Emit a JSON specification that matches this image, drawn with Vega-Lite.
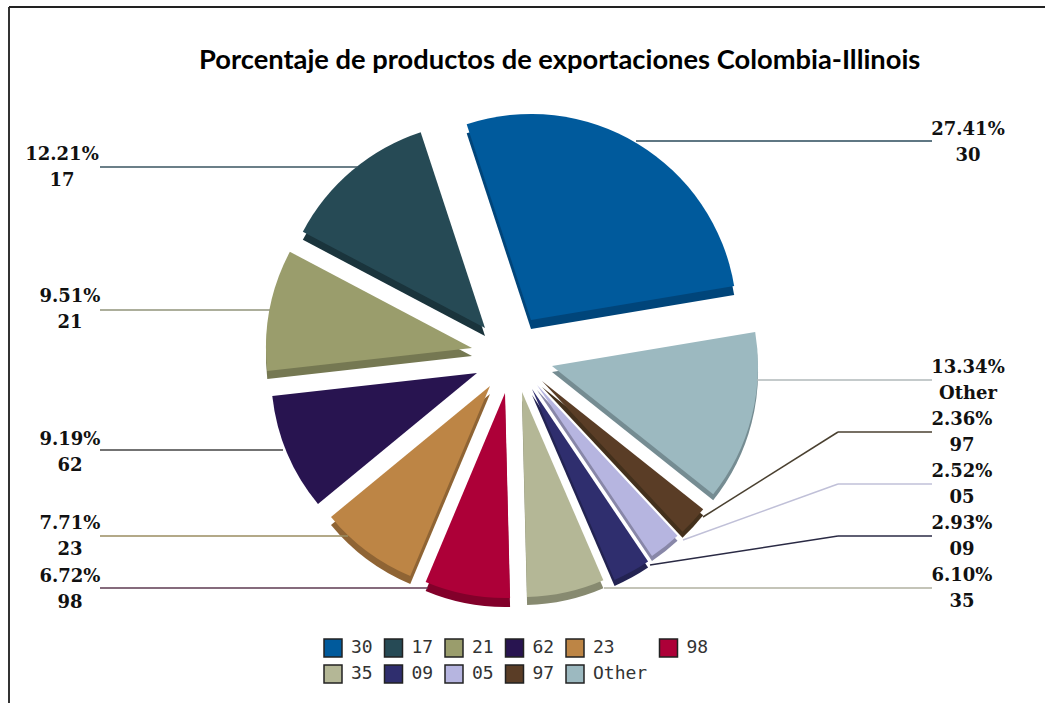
{"$schema":"https://vega.github.io/schema/vega-lite/v6.json","width":1045,"height":703,"padding":0,"autosize":"none","background":"white","view":{"stroke":null},
"title":{"text":"Porcentaje de productos de exportaciones Colombia-Illinois","font":"Lato","fontWeight":"bold","fontSize":27.3,"color":"#000000","anchor":"start","offset":-88,"baseline":"middle","dx":199},
"data":{"values":[
{"code":"30","share":27.41,"order":1,"label":"27.41%\n30"},
{"code":"Other","share":13.34,"order":2,"label":"13.34%\nOther"},
{"code":"97","share":2.36,"order":3,"label":"2.36%\n97"},
{"code":"05","share":2.52,"order":4,"label":"2.52%\n05"},
{"code":"09","share":2.93,"order":5,"label":"2.93%\n09"},
{"code":"35","share":6.10,"order":6,"label":"6.10%\n35"},
{"code":"98","share":6.72,"order":7,"label":"6.72%\n98"},
{"code":"23","share":7.71,"order":8,"label":"7.71%\n23"},
{"code":"62","share":9.19,"order":9,"label":"9.19%\n62"},
{"code":"21","share":9.51,"order":10,"label":"9.51%\n21"},
{"code":"17","share":12.21,"order":11,"label":"12.21%\n17"}]},
"transform":[{"stack":"share","sort":[{"field":"order"}],"as":["s0","s1"]}],
"layer":[
{"transform":[{"filter":"datum.code=='30'"}],"mark":{"type":"rule","color":"#333333","strokeWidth":2},"encoding":{"x":{"datum":9,"scale":{"domain":[0,1045]},"axis":null},"x2":{"datum":9},"y":{"datum":7,"scale":{"domain":[703,0]},"axis":null},"y2":{"datum":703}}},
{"transform":[{"filter":"datum.code=='30'"}],"mark":{"type":"rule","color":"#222222","strokeWidth":2},"encoding":{"x":{"datum":9,"scale":{"domain":[0,1045]},"axis":null},"x2":{"datum":1045},"y":{"datum":7,"scale":{"domain":[703,0]},"axis":null},"y2":{"datum":7}}},

{"transform":[{"filter":"datum.code=='30'"}],"mark":{"type":"arc","radius":206,"color":"#00457a"},"encoding":{"x":{"datum":531,"scale":{"domain":[0,1045]},"axis":null},"y":{"datum":329,"scale":{"domain":[703,0]},"axis":null},"theta":{"field":"s0","type":"quantitative","stack":null,"scale":{"domain":[0,100],"range":[-0.3176,5.9656]}},"theta2":{"field":"s1"}}},
{"transform":[{"filter":"datum.code=='Other'"}],"mark":{"type":"arc","radius":206,"color":"#758c92"},"encoding":{"x":{"datum":552,"scale":{"domain":[0,1045]},"axis":null},"y":{"datum":372,"scale":{"domain":[703,0]},"axis":null},"theta":{"field":"s0","type":"quantitative","stack":null,"scale":{"domain":[0,100],"range":[-0.3176,5.9656]}},"theta2":{"field":"s1"}}},
{"transform":[{"filter":"datum.code=='97'"}],"mark":{"type":"arc","radius":206,"color":"#43301c"},"encoding":{"x":{"datum":542,"scale":{"domain":[0,1045]},"axis":null},"y":{"datum":387,"scale":{"domain":[703,0]},"axis":null},"theta":{"field":"s0","type":"quantitative","stack":null,"scale":{"domain":[0,100],"range":[-0.3176,5.9656]}},"theta2":{"field":"s1"}}},
{"transform":[{"filter":"datum.code=='05'"}],"mark":{"type":"arc","radius":206,"color":"#8887a8"},"encoding":{"x":{"datum":537,"scale":{"domain":[0,1045]},"axis":null},"y":{"datum":390,"scale":{"domain":[703,0]},"axis":null},"theta":{"field":"s0","type":"quantitative","stack":null,"scale":{"domain":[0,100],"range":[-0.3176,5.9656]}},"theta2":{"field":"s1"}}},
{"transform":[{"filter":"datum.code=='09'"}],"mark":{"type":"arc","radius":208,"color":"#232352"},"encoding":{"x":{"datum":532,"scale":{"domain":[0,1045]},"axis":null},"y":{"datum":395,"scale":{"domain":[703,0]},"axis":null},"theta":{"field":"s0","type":"quantitative","stack":null,"scale":{"domain":[0,100],"range":[-0.3176,5.9656]}},"theta2":{"field":"s1"}}},
{"transform":[{"filter":"datum.code=='35'"}],"mark":{"type":"arc","radius":205,"color":"#878a70"},"encoding":{"x":{"datum":522,"scale":{"domain":[0,1045]},"axis":null},"y":{"datum":400,"scale":{"domain":[703,0]},"axis":null},"theta":{"field":"s0","type":"quantitative","stack":null,"scale":{"domain":[0,100],"range":[-0.3176,5.9656]}},"theta2":{"field":"s1"}}},
{"transform":[{"filter":"datum.code=='98'"}],"mark":{"type":"arc","radius":205,"color":"#82002a"},"encoding":{"x":{"datum":505,"scale":{"domain":[0,1045]},"axis":null},"y":{"datum":402,"scale":{"domain":[703,0]},"axis":null},"theta":{"field":"s0","type":"quantitative","stack":null,"scale":{"domain":[0,100],"range":[-0.3176,5.9656]}},"theta2":{"field":"s1"}}},
{"transform":[{"filter":"datum.code=='23'"}],"mark":{"type":"arc","radius":206,"color":"#8f6434"},"encoding":{"x":{"datum":490,"scale":{"domain":[0,1045]},"axis":null},"y":{"datum":394,"scale":{"domain":[703,0]},"axis":null},"theta":{"field":"s0","type":"quantitative","stack":null,"scale":{"domain":[0,100],"range":[-0.3176,5.9656]}},"theta2":{"field":"s1"}}},
{"transform":[{"filter":"datum.code=='21'"}],"mark":{"type":"arc","radius":206,"color":"#757852"},"encoding":{"x":{"datum":472,"scale":{"domain":[0,1045]},"axis":null},"y":{"datum":356,"scale":{"domain":[703,0]},"axis":null},"theta":{"field":"s0","type":"quantitative","stack":null,"scale":{"domain":[0,100],"range":[-0.3176,5.9656]}},"theta2":{"field":"s1"}}},
{"transform":[{"filter":"datum.code=='17'"}],"mark":{"type":"arc","radius":206,"color":"#1a343c"},"encoding":{"x":{"datum":485,"scale":{"domain":[0,1045]},"axis":null},"y":{"datum":336,"scale":{"domain":[703,0]},"axis":null},"theta":{"field":"s0","type":"quantitative","stack":null,"scale":{"domain":[0,100],"range":[-0.3176,5.9656]}},"theta2":{"field":"s1"}}},

{"transform":[{"filter":"datum.code=='30'"}],"mark":{"type":"arc","radius":206},"encoding":{"x":{"datum":531,"scale":{"domain":[0,1045]},"axis":null},"y":{"datum":320,"scale":{"domain":[703,0]},"axis":null},"theta":{"field":"s0","type":"quantitative","stack":null,"scale":{"domain":[0,100],"range":[-0.3176,5.9656]}},"theta2":{"field":"s1"},"color":{"field":"code","type":"nominal","scale":{"domain":["30","17","21","62","23","98","35","09","05","97","Other"],"range":["#005a9c","#264a55","#9a9d6c","#281450","#bd8545","#ad0038","#b4b796","#2f2e6e","#b6b5e0","#5a3d26","#9cb9c0"]},"legend":{"orient":"none","legendX":323,"legendY":638,"columns":6,"direction":"horizontal","title":null,"symbolType":"square","symbolSize":324,"symbolOpacity":1,"labelFont":"DejaVu Sans Mono","labelFontSize":18,"labelColor":"#333333","labelOffset":8,"columnPadding":8.5,"rowPadding":2,"gridAlign":"each","encode":{"symbols":{"update":{"stroke":{"value":"#222222"},"strokeWidth":{"value":1.5}}}}}}}},
{"transform":[{"filter":"datum.code=='Other'"}],"mark":{"type":"arc","radius":206},"encoding":{"x":{"datum":552,"scale":{"domain":[0,1045]},"axis":null},"y":{"datum":366,"scale":{"domain":[703,0]},"axis":null},"theta":{"field":"s0","type":"quantitative","stack":null,"scale":{"domain":[0,100],"range":[-0.3176,5.9656]}},"theta2":{"field":"s1"},"color":{"field":"code","type":"nominal"}}},
{"transform":[{"filter":"datum.code=='97'"}],"mark":{"type":"arc","radius":206},"encoding":{"x":{"datum":542,"scale":{"domain":[0,1045]},"axis":null},"y":{"datum":381,"scale":{"domain":[703,0]},"axis":null},"theta":{"field":"s0","type":"quantitative","stack":null,"scale":{"domain":[0,100],"range":[-0.3176,5.9656]}},"theta2":{"field":"s1"},"color":{"field":"code","type":"nominal"}}},
{"transform":[{"filter":"datum.code=='05'"}],"mark":{"type":"arc","radius":206},"encoding":{"x":{"datum":537,"scale":{"domain":[0,1045]},"axis":null},"y":{"datum":385,"scale":{"domain":[703,0]},"axis":null},"theta":{"field":"s0","type":"quantitative","stack":null,"scale":{"domain":[0,100],"range":[-0.3176,5.9656]}},"theta2":{"field":"s1"},"color":{"field":"code","type":"nominal"}}},
{"transform":[{"filter":"datum.code=='09'"}],"mark":{"type":"arc","radius":208},"encoding":{"x":{"datum":532,"scale":{"domain":[0,1045]},"axis":null},"y":{"datum":389,"scale":{"domain":[703,0]},"axis":null},"theta":{"field":"s0","type":"quantitative","stack":null,"scale":{"domain":[0,100],"range":[-0.3176,5.9656]}},"theta2":{"field":"s1"},"color":{"field":"code","type":"nominal"}}},
{"transform":[{"filter":"datum.code=='35'"}],"mark":{"type":"arc","radius":205},"encoding":{"x":{"datum":522,"scale":{"domain":[0,1045]},"axis":null},"y":{"datum":392,"scale":{"domain":[703,0]},"axis":null},"theta":{"field":"s0","type":"quantitative","stack":null,"scale":{"domain":[0,100],"range":[-0.3176,5.9656]}},"theta2":{"field":"s1"},"color":{"field":"code","type":"nominal"}}},
{"transform":[{"filter":"datum.code=='98'"}],"mark":{"type":"arc","radius":205},"encoding":{"x":{"datum":505,"scale":{"domain":[0,1045]},"axis":null},"y":{"datum":393,"scale":{"domain":[703,0]},"axis":null},"theta":{"field":"s0","type":"quantitative","stack":null,"scale":{"domain":[0,100],"range":[-0.3176,5.9656]}},"theta2":{"field":"s1"},"color":{"field":"code","type":"nominal"}}},
{"transform":[{"filter":"datum.code=='23'"}],"mark":{"type":"arc","radius":206},"encoding":{"x":{"datum":490,"scale":{"domain":[0,1045]},"axis":null},"y":{"datum":386,"scale":{"domain":[703,0]},"axis":null},"theta":{"field":"s0","type":"quantitative","stack":null,"scale":{"domain":[0,100],"range":[-0.3176,5.9656]}},"theta2":{"field":"s1"},"color":{"field":"code","type":"nominal"}}},
{"transform":[{"filter":"datum.code=='62'"}],"mark":{"type":"arc","radius":206},"encoding":{"x":{"datum":477,"scale":{"domain":[0,1045]},"axis":null},"y":{"datum":373,"scale":{"domain":[703,0]},"axis":null},"theta":{"field":"s0","type":"quantitative","stack":null,"scale":{"domain":[0,100],"range":[-0.3176,5.9656]}},"theta2":{"field":"s1"},"color":{"field":"code","type":"nominal"}}},
{"transform":[{"filter":"datum.code=='21'"}],"mark":{"type":"arc","radius":206},"encoding":{"x":{"datum":472,"scale":{"domain":[0,1045]},"axis":null},"y":{"datum":348,"scale":{"domain":[703,0]},"axis":null},"theta":{"field":"s0","type":"quantitative","stack":null,"scale":{"domain":[0,100],"range":[-0.3176,5.9656]}},"theta2":{"field":"s1"},"color":{"field":"code","type":"nominal"}}},
{"transform":[{"filter":"datum.code=='17'"}],"mark":{"type":"arc","radius":206},"encoding":{"x":{"datum":485,"scale":{"domain":[0,1045]},"axis":null},"y":{"datum":328,"scale":{"domain":[703,0]},"axis":null},"theta":{"field":"s0","type":"quantitative","stack":null,"scale":{"domain":[0,100],"range":[-0.3176,5.9656]}},"theta2":{"field":"s1"},"color":{"field":"code","type":"nominal"}}},

{"transform":[{"filter":"datum.code=='30'"}],"mark":{"type":"rule","strokeWidth":1.5,"color":"#2a4a5a"},"encoding":{"x":{"datum":932,"scale":{"domain":[0,1045]},"axis":null},"x2":{"datum":636},"y":{"datum":141,"scale":{"domain":[703,0]},"axis":null},"y2":{"datum":141}}},
{"transform":[{"filter":"datum.code=='Other'"}],"mark":{"type":"rule","strokeWidth":1.5,"color":"#b0b8ba"},"encoding":{"x":{"datum":932,"scale":{"domain":[0,1045]},"axis":null},"x2":{"datum":757},"y":{"datum":380,"scale":{"domain":[703,0]},"axis":null},"y2":{"datum":380}}},
{"transform":[{"filter":"datum.code=='97'"}],"mark":{"type":"rule","strokeWidth":1.5,"color":"#4a4030"},"encoding":{"x":{"datum":932,"scale":{"domain":[0,1045]},"axis":null},"x2":{"datum":838},"y":{"datum":432,"scale":{"domain":[703,0]},"axis":null},"y2":{"datum":432}}},
{"transform":[{"filter":"datum.code=='97'"}],"mark":{"type":"rule","strokeWidth":1.5,"color":"#4a4030"},"encoding":{"x":{"datum":838,"scale":{"domain":[0,1045]},"axis":null},"x2":{"datum":703},"y":{"datum":432,"scale":{"domain":[703,0]},"axis":null},"y2":{"datum":517}}},
{"transform":[{"filter":"datum.code=='05'"}],"mark":{"type":"rule","strokeWidth":1.5,"color":"#c0c0d8"},"encoding":{"x":{"datum":932,"scale":{"domain":[0,1045]},"axis":null},"x2":{"datum":838},"y":{"datum":484,"scale":{"domain":[703,0]},"axis":null},"y2":{"datum":484}}},
{"transform":[{"filter":"datum.code=='05'"}],"mark":{"type":"rule","strokeWidth":1.5,"color":"#c0c0d8"},"encoding":{"x":{"datum":838,"scale":{"domain":[0,1045]},"axis":null},"x2":{"datum":683},"y":{"datum":484,"scale":{"domain":[703,0]},"axis":null},"y2":{"datum":540}}},
{"transform":[{"filter":"datum.code=='09'"}],"mark":{"type":"rule","strokeWidth":1.5,"color":"#2a2a44"},"encoding":{"x":{"datum":932,"scale":{"domain":[0,1045]},"axis":null},"x2":{"datum":838},"y":{"datum":536,"scale":{"domain":[703,0]},"axis":null},"y2":{"datum":536}}},
{"transform":[{"filter":"datum.code=='09'"}],"mark":{"type":"rule","strokeWidth":1.5,"color":"#2a2a44"},"encoding":{"x":{"datum":838,"scale":{"domain":[0,1045]},"axis":null},"x2":{"datum":650},"y":{"datum":536,"scale":{"domain":[703,0]},"axis":null},"y2":{"datum":565}}},
{"transform":[{"filter":"datum.code=='35'"}],"mark":{"type":"rule","strokeWidth":1.5,"color":"#b0b0a0"},"encoding":{"x":{"datum":932,"scale":{"domain":[0,1045]},"axis":null},"x2":{"datum":604},"y":{"datum":588,"scale":{"domain":[703,0]},"axis":null},"y2":{"datum":588}}},
{"transform":[{"filter":"datum.code=='98'"}],"mark":{"type":"rule","strokeWidth":1.5,"color":"#5d3a50"},"encoding":{"x":{"datum":100,"scale":{"domain":[0,1045]},"axis":null},"x2":{"datum":428},"y":{"datum":588,"scale":{"domain":[703,0]},"axis":null},"y2":{"datum":588}}},
{"transform":[{"filter":"datum.code=='23'"}],"mark":{"type":"rule","strokeWidth":1.5,"color":"#9a8c60"},"encoding":{"x":{"datum":100,"scale":{"domain":[0,1045]},"axis":null},"x2":{"datum":348},"y":{"datum":536,"scale":{"domain":[703,0]},"axis":null},"y2":{"datum":536}}},
{"transform":[{"filter":"datum.code=='62'"}],"mark":{"type":"rule","strokeWidth":1.5,"color":"#444444"},"encoding":{"x":{"datum":100,"scale":{"domain":[0,1045]},"axis":null},"x2":{"datum":283},"y":{"datum":450,"scale":{"domain":[703,0]},"axis":null},"y2":{"datum":450}}},
{"transform":[{"filter":"datum.code=='21'"}],"mark":{"type":"rule","strokeWidth":1.5,"color":"#90937a"},"encoding":{"x":{"datum":100,"scale":{"domain":[0,1045]},"axis":null},"x2":{"datum":270},"y":{"datum":310,"scale":{"domain":[703,0]},"axis":null},"y2":{"datum":310}}},
{"transform":[{"filter":"datum.code=='17'"}],"mark":{"type":"rule","strokeWidth":1.5,"color":"#3a5560"},"encoding":{"x":{"datum":100,"scale":{"domain":[0,1045]},"axis":null},"x2":{"datum":358},"y":{"datum":167,"scale":{"domain":[703,0]},"axis":null},"y2":{"datum":167}}},

{"transform":[{"filter":"datum.code=='30'"}],"mark":{"type":"text","font":"DejaVu Serif","fontWeight":"bold","fontSize":18,"lineHeight":26,"lineBreak":"\n","align":"center","baseline":"middle","color":"#111111"},"encoding":{"x":{"datum":968,"scale":{"domain":[0,1045]},"axis":null},"y":{"datum":130,"scale":{"domain":[703,0]},"axis":null},"text":{"field":"label"}}},
{"transform":[{"filter":"datum.code=='Other'"}],"mark":{"type":"text","font":"DejaVu Serif","fontWeight":"bold","fontSize":18,"lineHeight":26,"lineBreak":"\n","align":"center","baseline":"middle","color":"#111111"},"encoding":{"x":{"datum":968,"scale":{"domain":[0,1045]},"axis":null},"y":{"datum":368,"scale":{"domain":[703,0]},"axis":null},"text":{"field":"label"}}},
{"transform":[{"filter":"datum.code=='97'"}],"mark":{"type":"text","font":"DejaVu Serif","fontWeight":"bold","fontSize":18,"lineHeight":26,"lineBreak":"\n","align":"center","baseline":"middle","color":"#111111"},"encoding":{"x":{"datum":962,"scale":{"domain":[0,1045]},"axis":null},"y":{"datum":420,"scale":{"domain":[703,0]},"axis":null},"text":{"field":"label"}}},
{"transform":[{"filter":"datum.code=='05'"}],"mark":{"type":"text","font":"DejaVu Serif","fontWeight":"bold","fontSize":18,"lineHeight":26,"lineBreak":"\n","align":"center","baseline":"middle","color":"#111111"},"encoding":{"x":{"datum":962,"scale":{"domain":[0,1045]},"axis":null},"y":{"datum":472,"scale":{"domain":[703,0]},"axis":null},"text":{"field":"label"}}},
{"transform":[{"filter":"datum.code=='09'"}],"mark":{"type":"text","font":"DejaVu Serif","fontWeight":"bold","fontSize":18,"lineHeight":26,"lineBreak":"\n","align":"center","baseline":"middle","color":"#111111"},"encoding":{"x":{"datum":962,"scale":{"domain":[0,1045]},"axis":null},"y":{"datum":524,"scale":{"domain":[703,0]},"axis":null},"text":{"field":"label"}}},
{"transform":[{"filter":"datum.code=='35'"}],"mark":{"type":"text","font":"DejaVu Serif","fontWeight":"bold","fontSize":18,"lineHeight":26,"lineBreak":"\n","align":"center","baseline":"middle","color":"#111111"},"encoding":{"x":{"datum":962,"scale":{"domain":[0,1045]},"axis":null},"y":{"datum":576,"scale":{"domain":[703,0]},"axis":null},"text":{"field":"label"}}},
{"transform":[{"filter":"datum.code=='98'"}],"mark":{"type":"text","font":"DejaVu Serif","fontWeight":"bold","fontSize":18,"lineHeight":26,"lineBreak":"\n","align":"center","baseline":"middle","color":"#111111"},"encoding":{"x":{"datum":70,"scale":{"domain":[0,1045]},"axis":null},"y":{"datum":577,"scale":{"domain":[703,0]},"axis":null},"text":{"field":"label"}}},
{"transform":[{"filter":"datum.code=='23'"}],"mark":{"type":"text","font":"DejaVu Serif","fontWeight":"bold","fontSize":18,"lineHeight":26,"lineBreak":"\n","align":"center","baseline":"middle","color":"#111111"},"encoding":{"x":{"datum":70,"scale":{"domain":[0,1045]},"axis":null},"y":{"datum":524,"scale":{"domain":[703,0]},"axis":null},"text":{"field":"label"}}},
{"transform":[{"filter":"datum.code=='62'"}],"mark":{"type":"text","font":"DejaVu Serif","fontWeight":"bold","fontSize":18,"lineHeight":26,"lineBreak":"\n","align":"center","baseline":"middle","color":"#111111"},"encoding":{"x":{"datum":70,"scale":{"domain":[0,1045]},"axis":null},"y":{"datum":440,"scale":{"domain":[703,0]},"axis":null},"text":{"field":"label"}}},
{"transform":[{"filter":"datum.code=='21'"}],"mark":{"type":"text","font":"DejaVu Serif","fontWeight":"bold","fontSize":18,"lineHeight":26,"lineBreak":"\n","align":"center","baseline":"middle","color":"#111111"},"encoding":{"x":{"datum":70,"scale":{"domain":[0,1045]},"axis":null},"y":{"datum":297,"scale":{"domain":[703,0]},"axis":null},"text":{"field":"label"}}},
{"transform":[{"filter":"datum.code=='17'"}],"mark":{"type":"text","font":"DejaVu Serif","fontWeight":"bold","fontSize":18,"lineHeight":26,"lineBreak":"\n","align":"center","baseline":"middle","color":"#111111"},"encoding":{"x":{"datum":62,"scale":{"domain":[0,1045]},"axis":null},"y":{"datum":155,"scale":{"domain":[703,0]},"axis":null},"text":{"field":"label"}}}
]}
